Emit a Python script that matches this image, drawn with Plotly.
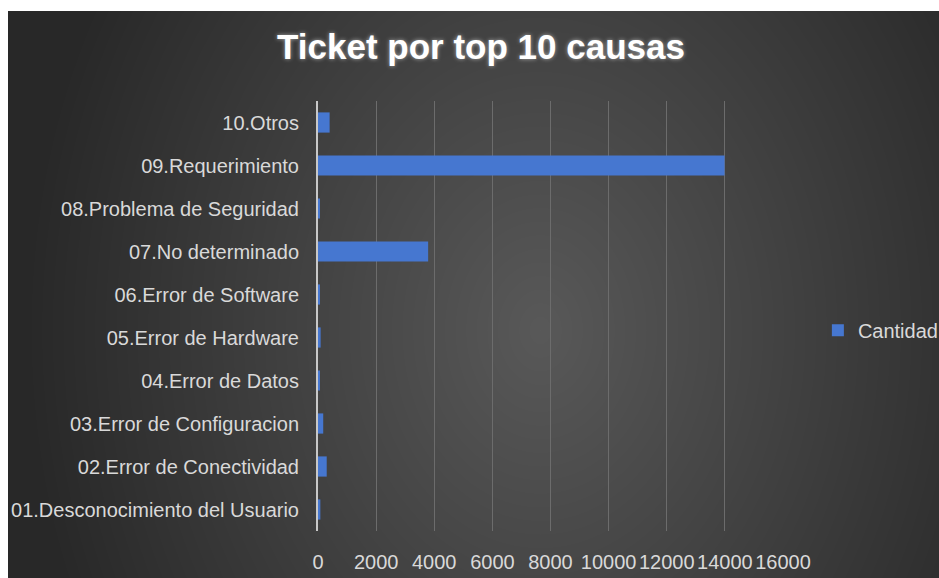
import base64
import struct
import zlib

import numpy as np
import plotly.graph_objects as go

# ---- data -------------------------------------------------------------
causas = [
    "01.Desconocimiento del Usuario",
    "02.Error de Conectividad",
    "03.Error de Configuracion",
    "04.Error de Datos",
    "05.Error de Hardware",
    "06.Error de Software",
    "07.No determinado",
    "08.Problema de Seguridad",
    "09.Requerimiento",
    "10.Otros",
]
cantidad = [80, 300, 180, 60, 90, 70, 3790, 60, 13990, 400]
x_ticks = [0, 2000, 4000, 6000, 8000, 10000, 12000, 14000, 16000]

# ---- geometry ---------------------------------------------------------
W, H = 939, 578
ML, MR, MT, MB = 318, 156, 101, 47
PW, PH = W - ML - MR, H - MT - MB

# dark panel (inside a thin white frame) with a soft radial shading
PX0, PY0 = 8, 11
pw, ph = W - PX0, H - PY0


def png_data_uri(rgb):
    h, w, _ = rgb.shape
    raw = b"".join(b"\x00" + row.tobytes() for row in rgb)

    def chunk(tag, data):
        return (struct.pack(">I", len(data)) + tag + data
                + struct.pack(">I", zlib.crc32(tag + data) & 0xFFFFFFFF))

    png = (b"\x89PNG\r\n\x1a\n"
           + chunk(b"IHDR", struct.pack(">IIBBBBB", w, h, 8, 2, 0, 0, 0))
           + chunk(b"IDAT", zlib.compress(raw, 9))
           + chunk(b"IEND", b""))
    return "data:image/png;base64," + base64.b64encode(png).decode()


yy, xx = np.mgrid[0:ph, 0:pw].astype(float)
ax_x, ax_y = xx + PX0, yy + PY0
d = np.sqrt(((ax_x - 540) / 530) ** 2 + ((ax_y - 330) / 680) ** 2)
v = np.clip(89 - 50 * d, 40, 90).astype(np.uint8)
panel = np.dstack([v, v, v])

fig = go.Figure()
fig.add_trace(go.Bar(
    x=cantidad,
    y=causas,
    orientation="h",
    name="Cantidad",
    marker=dict(color="#4677d0", line=dict(width=0)),
    showlegend=True,
))

tick_font = dict(family="Liberation Sans, Arial, sans-serif", size=20, color="#d9d9d9")

fig.update_layout(
    width=W,
    height=H,
    margin=dict(l=ML, r=MR, t=MT, b=MB, pad=0, autoexpand=False),
    paper_bgcolor="white",
    plot_bgcolor="rgba(0,0,0,0)",
    bargap=0.53,
    title=dict(
        text="Ticket por top 10 causas",
        x=481 / W,
        xref="container",
        xanchor="center",
        y=1 - 47 / H,
        yref="container",
        yanchor="middle",
        font=dict(family="Liberation Sans, Arial, sans-serif", size=35,
                  color="white", weight=700,
                  shadow="0px 0px 4px rgba(255,255,255,0.55)"),
    ),
    xaxis=dict(
        range=[0, 16000],
        tickvals=x_ticks,
        ticktext=[str(t) for t in x_ticks],
        tickangle=0,
        automargin=False,
        showgrid=True,
        gridcolor="#6c6c6c",
        gridwidth=1,
        zeroline=False,
        showline=False,
        ticks="outside",
        ticklen=13,
        tickcolor="rgba(0,0,0,0)",
        tickfont=tick_font,
        fixedrange=True,
    ),
    yaxis=dict(
        type="category",
        categoryorder="array",
        categoryarray=causas,
        automargin=False,
        showgrid=False,
        showline=True,
        linecolor="#c8c8c8",
        linewidth=2,
        ticks="outside",
        ticklen=13,
        tickcolor="rgba(0,0,0,0)",
        tickfont=tick_font,
        fixedrange=True,
    ),
    legend=dict(
        x=1.075,
        y=0.467,
        xanchor="left",
        yanchor="middle",
        bgcolor="rgba(0,0,0,0)",
        itemwidth=30,
        font=tick_font,
    ),
    images=[dict(
        source=png_data_uri(panel),
        xref="paper",
        yref="paper",
        x=(PX0 - ML) / PW,
        y=(H - MB - PY0) / PH,
        sizex=pw / PW,
        sizey=ph / PH,
        xanchor="left",
        yanchor="top",
        sizing="stretch",
        layer="below",
    )],
)

fig.write_html("out.html")
